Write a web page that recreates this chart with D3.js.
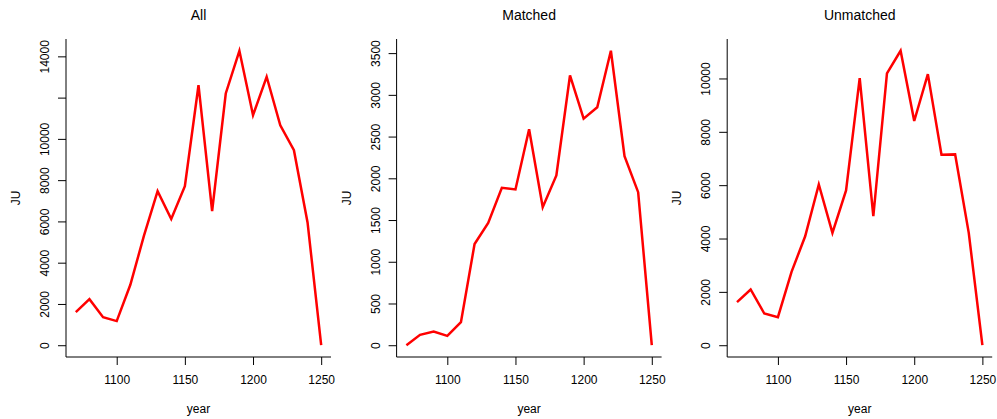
<!DOCTYPE html>
<html>
<head>
<meta charset="utf-8">
<script src="https://cdn.jsdelivr.net/npm/d3@7"></script>
<style>
  body { margin: 0; background: #fff; }
  text { font-family: "Liberation Sans", Arial, Helvetica, sans-serif; fill: #000; }
</style>
</head>
<body>
<div class="chart"></div>
<script>
// data
const years = [1070, 1080, 1090, 1100, 1110, 1120, 1130, 1140, 1150, 1160,
               1170, 1180, 1190, 1200, 1210, 1220, 1230, 1240, 1250]

const allJU = [1600, 2230, 1360, 1170, 2930, 5310, 7470, 6120, 7710, 12600,
               6500, 12200, 14270, 11150, 13010, 10660, 9450, 5950, 0]
const matchedJU = [0, 124, 164, 112, 276, 1213, 1466, 1886, 1866, 2587,
                   1653, 2034, 3232, 2715, 2851, 3528, 2266, 1834, 0]
const unmatchedJU = [1616, 2090, 1188, 1053, 2750, 4083, 6026, 4211, 5801, 10011,
                     4835, 10188, 11038, 8406, 10162, 7143, 7154, 4211, 0]

const titles = ["All", "Matched", "Unmatched"]
const xTicks = [1100, 1150, 1200, 1250]

const yTicksAll = [0, 2000, 4000, 6000, 8000, 10000, 12000, 14000]
const yLabelsAll = ["0", "2000", "4000", "6000", "8000", "10000", "", "14000"]
const yTicksMatched = [0, 500, 1000, 1500, 2000, 2500, 3000, 3500]
const yLabelsMatched = ["0", "500", "1000", "1500", "2000", "2500", "3000", "3500"]
const yTicksUnmatched = [0, 2000, 4000, 6000, 8000, 10000]
const yLabelsUnmatched = ["0", "2000", "4000", "6000", "8000", "10000"]

const panels = [
  {title: titles[0], values: allJU, ticks: yTicksAll, labels: yLabelsAll},
  {title: titles[1], values: matchedJU, ticks: yTicksMatched, labels: yLabelsMatched},
  {title: titles[2], values: unmatchedJU, ticks: yTicksUnmatched, labels: yLabelsUnmatched}
]

const W = 997, H = 419
const plotTop = 39, plotBottom = 357
const plotW = 265
const firstLeft = 66, step = 330.6

const svg = d3.select(".chart").append("svg")
    .attr("width", W)
    .attr("height", H)

// R style 4% range extension
function pad(ext) {
  const d = (ext[1] - ext[0]) * 0.04
  return [ext[0] - d, ext[1] + d]
}

panels.forEach(function(p, i) {
  const g = svg.append("g")
      .attr("transform", "translate(" + (firstLeft + i * step) + ",0)")

  const x = d3.scaleLinear()
      .domain(pad(d3.extent(years)))
      .range([0, plotW])

  const y = d3.scaleLinear()
      .domain(pad(d3.extent(p.values)))
      .range([plotBottom, plotTop])

  // x axis
  const xAxis = d3.axisBottom(x)
      .tickValues(xTicks)
      .tickFormat(d3.format("d"))
      .tickSize(8)
      .tickSizeOuter(0)

  g.append("g")
      .attr("class", "x axis")
      .attr("transform", "translate(0," + plotBottom + ")")
      .call(xAxis)
      .call(s => s.select(".domain").remove())
      .selectAll("text")
      .attr("y", 27)
      .attr("dy", 0)
      .style("font-size", "12px")
      .style("font-family", "Liberation Sans, Arial, sans-serif")

  // y axis
  const yAxis = d3.axisLeft(y)
      .tickValues(p.ticks)
      .tickFormat(function(d, k) { return p.labels[k] })
      .tickSize(8)
      .tickSizeOuter(0)

  g.append("g")
      .attr("class", "y axis")
      .call(yAxis)
      .call(s => s.select(".domain").remove())
      .selectAll("text")
      .attr("transform", "rotate(-90)")
      .attr("x", 0)
      .attr("y", -17)
      .attr("dy", 0)
      .attr("text-anchor", "middle")
      .style("font-size", "12px")
      .style("font-family", "Liberation Sans, Arial, sans-serif")

  g.selectAll(".tick line").attr("stroke", "#000")

  // L shaped box
  g.append("path")
      .attr("d", "M0," + plotTop + "V" + plotBottom + "H" + plotW)
      .attr("fill", "none")
      .attr("stroke", "#000")
      .attr("stroke-width", 1)

  // the series
  const line = d3.line()
      .x(function(d, k) { return x(years[k]) })
      .y(function(d) { return y(d) })

  g.append("path")
      .datum(p.values)
      .attr("d", line)
      .attr("fill", "none")
      .attr("stroke", "#ff0000")
      .attr("stroke-width", 2.5)
      .attr("stroke-linejoin", "miter")

  // labels
  g.append("text")
      .attr("x", plotW / 2)
      .attr("y", 20)
      .attr("text-anchor", "middle")
      .style("font-size", "14px")
      .text(p.title)

  g.append("text")
      .attr("x", plotW / 2)
      .attr("y", 413)
      .attr("text-anchor", "middle")
      .style("font-size", "12px")
      .text("year")

  g.append("text")
      .attr("transform", "translate(-46," + ((plotTop + plotBottom) / 2) + ") rotate(-90)")
      .attr("text-anchor", "middle")
      .style("font-size", "12px")
      .text("JU")
})
</script>
</body>
</html>
